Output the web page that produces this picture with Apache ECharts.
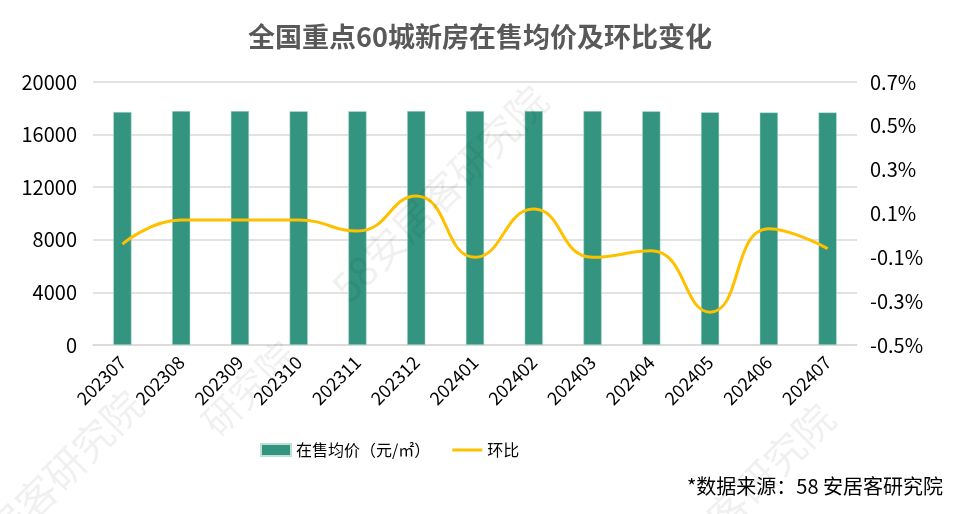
<!DOCTYPE html>
<html>
<head>
<meta charset="utf-8">
<script src="https://cdn.jsdelivr.net/npm/echarts@6/dist/echarts.min.js"></script>
<style>
  html, body { margin: 0; padding: 0; background: #fff; }
  #main { width: 960px; height: 514px; }
</style>
</head>
<body>
<div id="main"></div>
<script>
// 月份
const months = ["202307", "202308", "202309", "202310", "202311", "202312", "202401",
  "202402", "202403", "202404", "202405", "202406", "202407"];
// 在售均价（元/㎡）
const avgPrice = [17720, 17790, 17790, 17780, 17780, 17790, 17790,
  17800, 17790, 17770, 17700, 17690, 17690];
// 环比（%）
const momChange = [-0.04, 0.07, 0.07, 0.07, 0.02, 0.18, -0.10,
  0.12, -0.10, -0.07, -0.35, 0.03, -0.06];
// 右轴刻度
const rightTicks = [-0.5, -0.3, -0.1, 0.1, 0.3, 0.5, 0.7];

const font = "'Noto Sans CJK SC', 'Noto Sans', sans-serif";
const chart = echarts.init(document.getElementById("main"));

// 水印
const watermark = (text, x, y, size) => ({
  type: "text",
  x: x, y: y,
  rotation: Math.PI / 4,
  silent: true,
  z: 100,
  style: { text: text, fill: "rgba(0,0,0,0.06)", font: size + "px " + font }
});

chart.setOption({
  backgroundColor: "#fff",
  textStyle: { fontFamily: font },
  title: {
    text: "全国重点60城新房在售均价及环比变化",
    left: "center",
    top: 18,
    textStyle: { color: "#595959", fontSize: 27, fontWeight: "bold", fontFamily: font }
  },
  grid: { left: 93, right: 103, top: 82, bottom: 169 },
  legend: {
    top: 437,
    left: 255,
    itemGap: 22,
    itemWidth: 30,
    itemHeight: 12,
    textStyle: { color: "#000", fontSize: 16, fontFamily: font },
    data: [
      { name: "在售均价（元/㎡）", icon: "rect" },
      { name: "环比", icon: "path://M0 0h30v3H0z" }
    ]
  },
  graphic: [
    {
      type: "text",
      right: 17,
      top: 476,
      style: { text: "*数据来源：58 安居客研究院", fill: "#000", font: "20px " + font }
    },
    watermark("58安居客研究院", 325, 280, 40),
    watermark("研究院", 195, 415, 38),
    watermark("居客研究院", -20, 525, 40),
    watermark("客研究院", 700, 510, 40)
  ],
  xAxis: {
    type: "category",
    data: months,
    axisLine: { lineStyle: { color: "#d9d9d9", width: 1.5 } },
    axisTick: { show: false },
    axisLabel: { rotate: 45, color: "#000", fontSize: 18, margin: 14 }
  },
  yAxis: [
    {
      type: "value",
      min: 0,
      max: 20000,
      interval: 4000,
      axisLine: { show: false },
      axisTick: { show: false },
      axisLabel: { color: "#000", fontSize: 20, margin: 16, formatter: v => String(v) },
      splitLine: { lineStyle: { color: "#d9d9d9", width: 1.5 } }
    },
    {
      type: "value",
      min: -0.5,
      max: 0.7,
      axisLine: { show: false },
      axisTick: { show: false },
      splitLine: { show: false },
      axisLabel: {
        color: "#000",
        fontSize: 20,
        margin: 13,
        customValues: rightTicks,
        formatter: v => v.toFixed(1) + "%"
      }
    }
  ],
  series: [
    {
      name: "在售均价（元/㎡）",
      type: "bar",
      data: avgPrice,
      barWidth: "31%",
      itemStyle: { color: "#33957f", borderColor: "#bfe0d6", borderWidth: 0.5 }
    },
    {
      name: "环比",
      type: "line",
      yAxisIndex: 1,
      data: momChange,
      smooth: 0.5,
      symbol: "none",
      lineStyle: { color: "#ffc000", width: 3 },
      itemStyle: { color: "#ffc000" }
    }
  ]
});
</script>
</body>
</html>
